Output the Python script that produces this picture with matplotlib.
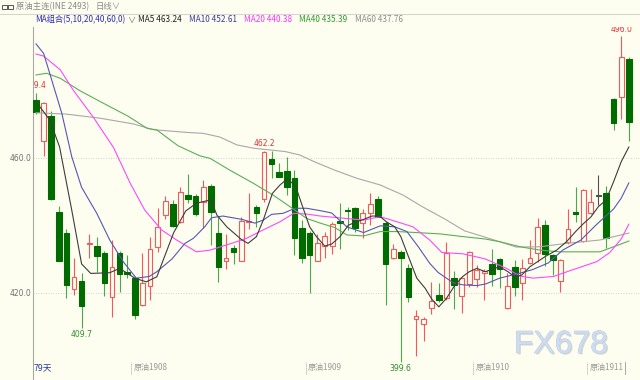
import matplotlib
matplotlib.use("Agg")
import matplotlib.pyplot as plt
import matplotlib.patheffects as pe
from matplotlib.patches import Rectangle

# daily candles, 79 days (open / high / low / close)
opens = [477.2, 465.1, 472.5, 443.9, 437.9, 421.1, 423.6, 434.5, 433.9, 431.9,
         418.7, 431.8, 426.3, 424.4, 416.4, 422.1, 433.5, 443.1, 446.4, 441.1,
         448.9, 448.7, 446.9, 451.8, 437.9, 429.5, 433.3, 429.6, 440.9, 445.6,
         447.8, 459.7, 455.7, 456.1, 454.0, 439.2, 437.9, 429.6, 433.9, 433.9,
         441.3, 444.6, 445.3, 440.8, 443.6, 447.8, 440.8, 430.3, 432.2, 427.3,
         412.2, 410.7, 415.5, 419.4, 418.4, 424.5, 419.1, 422.6, 424.0, 425.8,
         428.5, 430.0, 415.5, 427.7, 422.9, 429.0, 431.8, 440.2, 431.3, 423.5,
         435.0, 444.0, 435.5, 443.6, 448.8, 449.5, 477.5, 478.0, 489.3]
highs = [479.4, 476.7, 474.0, 445.8, 438.9, 430.3, 426.0, 437.5, 436.7, 432.5,
         435.7, 432.5, 431.3, 424.8, 431.9, 436.7, 445.1, 448.7, 447.5, 451.5,
         455.2, 449.2, 453.5, 452.3, 442.4, 437.5, 434.2, 442.4, 449.5, 446.2,
         462.2, 462.1, 458.4, 460.4, 456.4, 441.6, 438.5, 437.5, 438.2, 441.0,
         446.6, 445.6, 445.6, 444.8, 449.5, 448.7, 441.4, 434.6, 432.6, 428.6,
         415.0, 413.0, 423.4, 423.0, 435.0, 426.6, 424.7, 432.4, 428.3, 427.2,
         433.0, 430.5, 425.8, 429.8, 430.0, 435.7, 442.2, 441.5, 431.6, 430.2,
         444.8, 451.5, 450.7, 450.7, 455.0, 451.8, 477.7, 496.0, 489.8]
lows = [473.0, 460.7, 447.5, 429.4, 418.4, 419.4, 409.7, 430.3, 426.3, 419.1,
        413.0, 420.4, 424.4, 412.2, 416.0, 417.9, 432.2, 441.8, 439.5, 440.6,
        446.6, 442.9, 439.2, 434.2, 423.4, 427.0, 428.5, 429.4, 438.9, 439.6,
        447.0, 454.0, 454.3, 449.0, 431.3, 428.8, 420.1, 429.4, 430.5, 431.5,
        433.0, 438.7, 438.2, 436.2, 440.0, 442.4, 416.4, 430.0, 399.6, 417.2,
        401.3, 405.9, 413.8, 417.2, 418.0, 415.2, 414.0, 421.7, 421.9, 418.0,
        422.0, 421.4, 415.3, 419.0, 417.8, 428.5, 429.2, 428.0, 425.3, 420.2,
        434.5, 441.1, 435.2, 443.3, 446.0, 433.2, 468.3, 471.6, 465.1]
closes = [473.7, 476.2, 447.8, 429.6, 422.4, 424.8, 416.1, 434.8, 431.0, 422.9,
          427.6, 425.6, 425.6, 413.5, 423.0, 433.0, 439.5, 447.4, 439.9, 450.0,
          447.8, 443.4, 451.5, 444.1, 427.6, 430.3, 432.1, 441.4, 441.2, 443.8,
          461.7, 458.2, 454.5, 451.5, 436.2, 430.3, 431.3, 434.7, 436.9, 440.4,
          440.6, 444.2, 439.2, 443.8, 446.3, 442.6, 428.6, 433.0, 430.5, 418.9,
          413.3, 412.2, 417.7, 417.9, 431.8, 422.4, 424.5, 432.1, 426.8, 426.6,
          425.6, 427.0, 422.0, 421.8, 427.3, 430.3, 439.5, 431.5, 429.7, 429.8,
          438.9, 443.3, 450.5, 447.1, 448.8, 436.4, 470.3, 489.8, 470.6]

# moving averages (candle index, value)
ma5_x = [0, 1.8, 3.1, 4.7, 6.0, 7.2, 9.7, 11.0, 13.0, 14.5, 15.9, 18.1, 19.7, 21.1,
         23.0, 23.8, 25.1, 27.1, 27.9, 29.0, 29.9, 31.1, 32.1, 33.0, 34.1, 35.0,
         36.0, 36.9, 38.0, 38.9, 40.0, 41.1, 42.2, 43.1, 44.2, 45.2, 46.1, 47.2,
         48.0, 49.0, 50.1, 51.2, 52.1, 53.0, 54.0, 55.0, 56.1, 57.0, 58.0, 59.1,
         61.0, 62.1, 63.0, 63.9, 65.0, 67.0, 68.5, 69.8, 71.0, 72.0, 73.0, 74.0,
         75.0, 76.0, 77.0, 78.0]
ma5_y = [476.7, 471.3, 463.3, 444.6, 428.6, 425.8, 426.0, 427.3, 424.4, 423.3,
         424.8, 437.8, 444.3, 446.6, 447.6, 443.1, 439.6, 435.7, 434.7, 436.7,
         441.6, 449.5, 452.0, 453.7, 452.0, 446.1, 439.6, 436.7, 433.9, 434.5,
         436.7, 440.1, 441.1, 441.8, 442.8, 442.8, 441.1, 439.6, 436.7, 430.8,
         424.4, 421.4, 418.1, 415.9, 418.4, 421.9, 424.8, 426.3, 427.3, 426.3,
         427.8, 426.3, 424.8, 425.3, 427.8, 430.8, 432.7, 435.2, 438.2, 440.5,
         442.5, 445.6, 447.5, 453.0, 458.9, 463.24]
ma10_x = [0, 1.0, 1.8, 3.4, 4.7, 6.0, 8.0, 9.7, 11.5, 13.2, 14.9, 15.9, 17.9, 19.6,
          20.7, 22.2, 23.1, 24.6, 27.1, 28.8, 29.9, 31.0, 32.5, 34.1, 35.6, 37.4,
          38.9, 40.9, 43.1, 45.3, 47.2, 48.8, 50.3, 51.8, 52.9, 54.9, 56.2, 58.0,
          59.2, 61.0, 63.2, 65.3, 67.4, 69.3, 71.7, 73.8, 76.0, 77.0, 78.0]
ma10_y = [493.8, 491.0, 485.1, 473.2, 460.4, 451.3, 443.6, 435.7, 429.2, 424.4,
          424.9, 426.3, 430.1, 434.7, 436.2, 439.6, 442.3, 442.8, 441.8, 440.7,
          441.6, 443.3, 443.6, 445.1, 445.1, 444.4, 443.7, 439.6, 437.9, 439.9,
          439.6, 438.2, 433.7, 428.8, 426.1, 423.0, 422.4, 422.2, 422.7, 424.4,
          425.6, 426.9, 428.9, 432.7, 435.7, 440.4, 444.9, 448.1, 452.61]
ma20_x = [0, 1.0, 3.2, 4.9, 7.5, 10.2, 12.4, 14.3, 16.5, 18.5, 21.1, 22.9, 26.0,
          27.7, 29.9, 32.1, 33.9, 35.6, 37.4, 39.3, 43.1, 45.3, 47.5, 49.6, 51.8,
          53.4, 56.2, 59.1, 61.9, 63.7, 65.4, 68.1, 70.5, 73.8, 75.5, 77.0, 78.0]
ma20_y = [490.8, 490.2, 486.1, 480.1, 472.2, 463.1, 452.5, 444.6, 438.7, 435.7,
          432.2, 432.7, 434.9, 436.2, 438.7, 441.1, 443.6, 443.4, 442.8, 442.4,
          441.6, 442.6, 441.1, 439.6, 435.7, 432.0, 431.6, 430.1, 427.3, 425.0,
          424.4, 424.9, 426.8, 429.3, 432.0, 436.0, 440.38]
ma40_x = [0, 1.4, 3.2, 5.8, 9.3, 12.1, 14.6, 15.9, 18.7, 21.6, 22.9, 25.5, 28.6,
          31.2, 33.4, 35.6, 37.4, 39.3, 40.9, 43.1, 45.3, 47.5, 50.1, 53.2, 56.2,
          59.1, 61.0, 63.7, 66.3, 68.9, 74.2, 76.0, 78.0]
ma40_y = [484.6, 485.1, 483.6, 479.9, 475.7, 472.4, 468.8, 468.3, 463.6, 460.6,
          459.9, 456.4, 452.5, 449.0, 445.6, 442.1, 440.7, 439.4, 437.2, 436.9,
          438.2, 438.2, 437.9, 437.5, 436.7, 436.0, 435.2, 433.7, 432.7, 432.2,
          432.2, 433.7, 435.39]
ma60_x = [0, 4.0, 8.4, 12.8, 15.4, 19.7, 22.0, 24.2, 26.4, 28.6, 32.8, 34.7, 36.7,
          39.3, 42.2, 45.3, 48.3, 50.8, 53.8, 56.4, 59.3, 63.2, 66.3, 69.8, 74.2, 78.0]
ma60_y = [473.4, 473.0, 471.8, 470.1, 468.4, 467.6, 467.3, 466.2, 463.9, 462.9,
          461.9, 460.9, 458.8, 456.4, 454.0, 452.0, 449.0, 445.6, 441.9, 438.4,
          436.4, 433.6, 433.7, 434.7, 435.7, 437.76]

month_starts = [12.5, 35.5, 57.5, 72.5]
month_names = ["原油1908", "原油1909", "原油1910", "原油1911"]
y_ticks = [420, 460]

BG = "#fefef0"
RED = "#f25a5a"
GREEN = "#006c00"
GREEN_WICK = "#4aa84a"
CJK = ["Noto Sans CJK SC", "DejaVu Sans"]

fig = plt.figure(figsize=(6.4, 3.8), dpi=100, facecolor=BG)
ax = fig.add_axes([33 / 640, 0, 607 / 640, 353 / 380])
ax.set_facecolor(BG)
ax.set_xlim(-0.395, 79.47)
ax.set_ylim(394.22, 498.81)
for s in ["top", "right", "bottom"]:
    ax.spines[s].set_visible(False)
ax.spines["left"].set_color("#a8a8a8")
ax.spines["left"].set_linewidth(0.8)
ax.set_xticks([])
ax.set_yticks(y_ticks)
ax.set_yticklabels([f"{v:.1f}" for v in y_ticks], fontsize=5.5, color="#707070")
ax.tick_params(axis="y", length=0, pad=1)
ax.grid(axis="y", color="#c4c4c4", linestyle=(0, (1, 2)), linewidth=0.6)
ax.set_axisbelow(True)

# candles
for i, (o, h, l, c) in enumerate(zip(opens, highs, lows, closes)):
    if c > o:
        edge, face, wick, w = RED, BG, RED, 0.64
    elif c < o:
        edge, face, wick, w = GREEN, GREEN, GREEN_WICK, 0.74
    else:
        edge, face, wick, w = "#505050", "#505050", "#505050", 0.74
    ax.vlines(i, l, h, color=wick, linewidth=0.8, zorder=2)
    ax.bar(i, max(abs(c - o), 0.3), bottom=min(o, c), width=w,
           color=face, edgecolor=edge, linewidth=0.8, zorder=3)

# moving averages
ax.plot(ma60_x, ma60_y, color="#a8a8a8", linewidth=0.8, zorder=4)
ax.plot(ma40_x, ma40_y, color="#5aae5a", linewidth=0.8, zorder=4)
ax.plot(ma20_x, ma20_y, color="#ff48ff", linewidth=0.8, zorder=4)
ax.plot(ma10_x, ma10_y, color="#5656b4", linewidth=0.8, zorder=4)
ax.plot(ma5_x, ma5_y, color="#3c3c3c", linewidth=0.8, zorder=4)

# high / low marks
hi_lo = [(0, highs[0], "#e83030", 1), (30, highs[30], "#e83030", 1),
         (77, highs[77], "#e83030", 1), (6, lows[6], "#2e8b2e", -1),
         (48, lows[48], "#2e8b2e", -1)]
for i, v, col, d in hi_lo:
    ax.annotate(f"{v:.1f}", (i, v), xytext=(0, 1.5 * d), textcoords="offset points",
                ha="center", va="bottom" if d > 0 else "top", fontsize=5.5,
                color=col, clip_on=True, zorder=5)

# month separators along the bottom
trans = ax.get_xaxis_transform()
for xm, name in zip(month_starts, month_names):
    ax.plot([xm, xm], [0.017, 0.05], transform=trans, color="#a8a8a8",
            linewidth=0.7, linestyle=(0, (1, 1)), clip_on=False)
    ax.text(xm + 0.3, 0.034, name, transform=trans, fontsize=5.8,
            family=CJK, color="#9a9a9a", ha="left", va="center")
ax.plot([77.5, 77.5], [0.017, 0.05], transform=trans, color="#a8a8a8",
        linewidth=0.7, clip_on=False)

# overlay in pixel units for header, footer and watermark
ax0 = fig.add_axes([0, 0, 1, 1])
ax0.set_xlim(0, 640)
ax0.set_ylim(380, 0)
ax0.axis("off")
ax0.patch.set_visible(False)

ax0.plot([0, 640], [14, 14], color="#d6d6d0", linewidth=0.8)
ax0.add_patch(Rectangle((2, 4.5), 4.5, 4, fill=False, edgecolor="#555555", linewidth=0.7))
ax0.add_patch(Rectangle((8, 4.5), 4.5, 4, fill=False, edgecolor="#555555", linewidth=0.7))
ax0.text(16, 7, "原油主连(INE 2493)", fontsize=6, family=CJK, color="#8a8a8a",
         ha="left", va="center")
ax0.text(96, 7, "日线∨", fontsize=6, family=CJK, color="#8a8a8a", ha="left", va="center")

header = [(35, "MA组合(5,10,20,40,60,0)", "#2b2bb5"), (127, "∨", "#707070"),
          (138, "MA5 463.24", "#202020"), (189, "MA10 452.61", "#3a3aa0"),
          (244, "MA20 440.38", "#ff30ff"), (299, "MA40 435.39", "#2e9a2e"),
          (355, "MA60 437.76", "#8c8c8c")]
for xp, txt, col in header:
    ax0.text(xp, 20, txt, fontsize=5.9, family=CJK, color=col, ha="left", va="center")

ax0.text(34, 368, "79天", fontsize=6.3, family=CJK, color="#2a3a9c", ha="left", va="center")

ax0.text(561, 345, "FX678", fontsize=23, family="Liberation Sans", color="#cddcf2",
         ha="center", va="center",
         path_effects=[pe.withSimplePatchShadow(offset=(1.0, -1.0), shadow_rgbFace="#a0a0a0", alpha=0.4),
                       pe.Stroke(linewidth=0.5, foreground="#bcc8d8"), pe.Normal()])

fig.savefig("out.png", dpi=100, facecolor=BG)
